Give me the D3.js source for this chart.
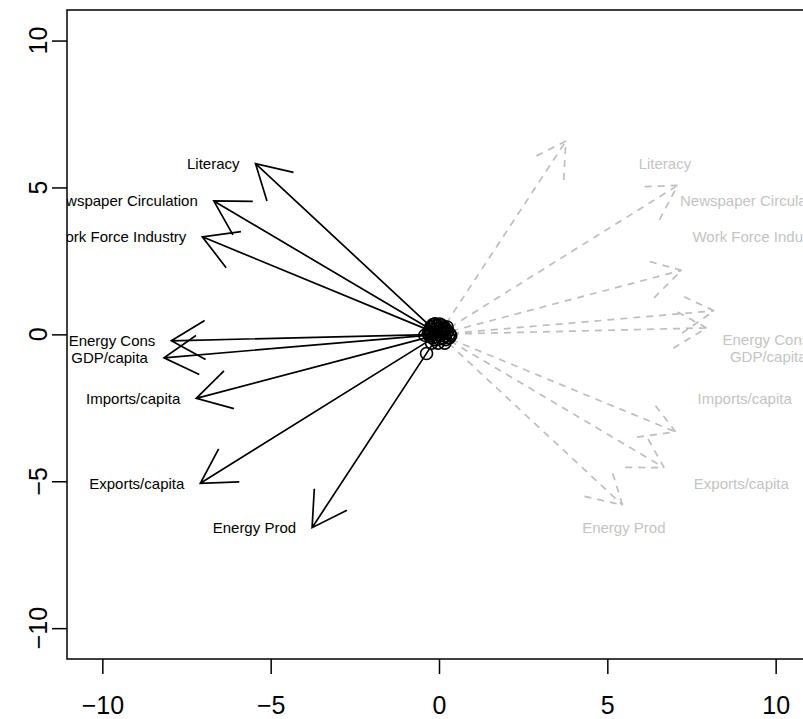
<!DOCTYPE html>
<html>
<head>
<meta charset="utf-8">
<script src="https://cdn.jsdelivr.net/npm/d3@7"></script>
<style>
  body { margin: 0; background: #fff; }
  text { font-family: "Liberation Sans", Arial, sans-serif; }
</style>
</head>
<body>
<div id="chart"></div>
<script>
const W = 803, H = 719;
const margin = { top: 10, right: -8, bottom: 60, left: 67 },
  width = W - margin.left - margin.right,
  height = H - margin.top - margin.bottom;

// variable loadings (black arrows); grey arrows are the reflected set
const variables = ["Literacy", "Newspaper Circulation", "Work Force Industry",
  "Energy Cons", "GDP/capita", "Imports/capita", "Exports/capita", "Energy Prod"];
const loadX = [-5.45, -6.69, -7.03, -7.95, -8.17, -7.21, -7.09, -3.77];
const loadY = [5.81, 4.54, 3.32, -0.22, -0.80, -2.18, -5.07, -6.58];

// grey label centres
const greyLabelX = [6.71, 9.40, 9.53, 9.71, 9.78, 9.08, 8.98, 5.49];
const greyLabelY = [5.81, 4.54, 3.32, -0.20, -0.77, -2.18, -5.07, -6.58];

// observation scores (cluster near the origin)
const scoreX = [-0.37, -0.42, -0.22, -0.03, 0.17, -0.30, -0.25, -0.18, -0.12, -0.05,
  0.02, 0.08, 0.14, 0.20, 0.26, 0.32, -0.28, -0.20, -0.10, 0.0, 0.10, 0.18, 0.28,
  0.35, -0.15, -0.06, 0.05, 0.12, 0.22, 0.30, -0.22, -0.12, 0.0, 0.10, 0.20, -0.32,
  -0.08, 0.06, 0.16, 0.24, -0.26, -0.16];
const scoreY = [-0.65, -0.03, -0.30, -0.30, -0.30, 0.10, 0.25, 0.33, 0.36, 0.30,
  0.35, 0.32, 0.26, 0.18, 0.10, 0.02, -0.05, -0.12, -0.08, -0.02, 0.02, -0.06, -0.10,
  -0.04, 0.15, 0.20, 0.22, 0.12, 0.05, -0.12, 0.05, -0.18, -0.16, -0.14, -0.18, 0.02,
  0.08, 0.10, 0.20, 0.25, 0.18, 0.28];

const xTicks = [-10, -5, 0, 5, 10];
const yTicks = [-10, -5, 0, 5, 10];

const x = d3.scaleLinear().domain([-11.05, 11.05]).range([0, width]);
const y = d3.scaleLinear().domain([-11.05, 11.04]).range([height, 0]);

const svg = d3.select("#chart")
  .append("svg")
  .attr("width", W)
  .attr("height", H)
  .append("g")
  .attr("transform", `translate(${margin.left}, ${margin.top})`);

svg.append("defs").append("clipPath").attr("id", "plotclip")
  .append("rect").attr("x", 0).attr("y", 0).attr("width", width).attr("height", height);

const plot = svg.append("g").attr("clip-path", "url(#plotclip)");

const headLen = 39, headAng = Math.PI / 6;

function arrow(g, x1, y1, stroke, dash) {
  const px0 = x(0), py0 = y(0), px1 = x(x1), py1 = y(y1);
  const a = Math.atan2(py0 - py1, px0 - px1);
  const path = d3.path();
  path.moveTo(px0, py0);
  path.lineTo(px1, py1);
  path.moveTo(px1 + headLen * Math.cos(a - headAng), py1 + headLen * Math.sin(a - headAng));
  path.lineTo(px1, py1);
  path.lineTo(px1 + headLen * Math.cos(a + headAng), py1 + headLen * Math.sin(a + headAng));
  g.append("path")
    .attr("d", path.toString())
    .attr("fill", "none")
    .attr("stroke", stroke)
    .attr("stroke-width", 1.7)
    .attr("stroke-dasharray", dash);
}

// grey dashed arrows (reflected loadings)
const grey = plot.append("g");
variables.forEach((v, i) => arrow(grey, -loadX[i], -loadY[i], "#bebebe", "7,6"));

grey.selectAll("text")
  .data(variables)
  .join("text")
  .attr("x", (d, i) => x(greyLabelX[i]))
  .attr("y", (d, i) => y(greyLabelY[i]))
  .attr("dy", "0.35em")
  .attr("text-anchor", "middle")
  .attr("font-size", 15)
  .attr("fill", "#c4c4c4")
  .text((d) => d);

// points
plot.selectAll("circle")
  .data(scoreX)
  .join("circle")
  .attr("cx", (d) => x(d))
  .attr("cy", (d, i) => y(scoreY[i]))
  .attr("r", 6)
  .attr("fill", "none")
  .attr("stroke", "black")
  .attr("stroke-width", 1.6);

// black arrows
const black = plot.append("g");
variables.forEach((v, i) => arrow(black, loadX[i], loadY[i], "black", null));

black.selectAll("text")
  .data(variables)
  .join("text")
  .attr("x", (d, i) => x(loadX[i]) - 16)
  .attr("y", (d, i) => y(loadY[i]))
  .attr("dy", "0.35em")
  .attr("text-anchor", "end")
  .attr("font-size", 15)
  .attr("fill", "black")
  .text((d) => d);

// frame
svg.append("rect")
  .attr("x", 0).attr("y", 0)
  .attr("width", width).attr("height", height)
  .attr("fill", "none")
  .attr("stroke", "black")
  .attr("stroke-width", 1.5);

// axes
svg.append("g")
  .attr("transform", `translate(0, ${height})`)
  .call(d3.axisBottom(x).tickValues(xTicks).tickSize(15).tickPadding(22)
    .tickFormat((d) => d < 0 ? "\u2212" + Math.abs(d) : d))
  .call((g) => g.select(".domain").remove())
  .call((g) => g.selectAll("line").attr("stroke-width", 1.5))
  .call((g) => g.selectAll("text").attr("font-size", 25).attr("font-family", "Liberation Sans, Arial, sans-serif"));

const yAxis = svg.append("g")
  .call(d3.axisLeft(y).tickValues(yTicks).tickSize(15).tickFormat(""))
  .call((g) => g.select(".domain").remove())
  .call((g) => g.selectAll("line").attr("stroke-width", 1.5));

svg.append("g").selectAll("text")
  .data(yTicks)
  .join("text")
  .attr("transform", (d) => `translate(${47 - margin.left}, ${y(d)}) rotate(-90)`)
  .attr("text-anchor", "middle")
  .attr("font-size", 25)
  .text((d) => d < 0 ? "\u2212" + Math.abs(d) : d);
</script>
</body>
</html>
